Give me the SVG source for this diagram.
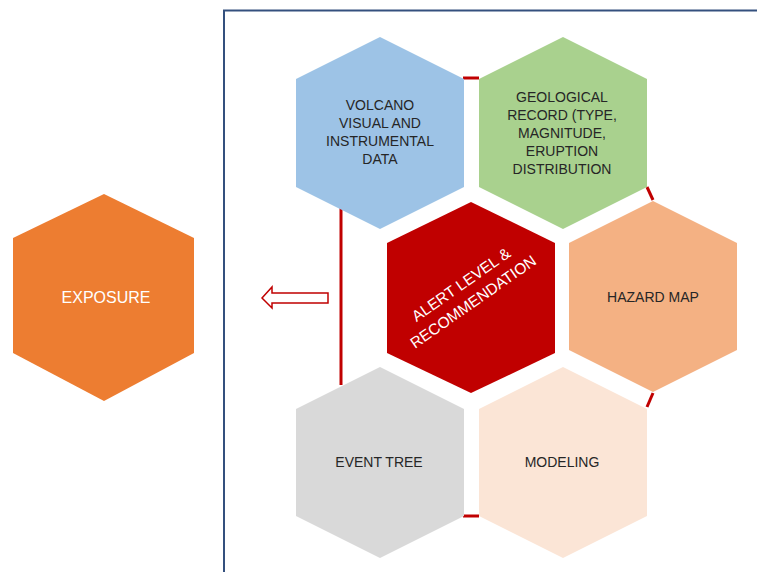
<svg xmlns="http://www.w3.org/2000/svg" width="757" height="572" viewBox="0 0 757 572">
<style>
  .lbl{font-family:"Liberation Sans",Arial,sans-serif;font-size:14px;fill:#262626;text-anchor:middle}
  .wht{font-family:"Liberation Sans",Arial,sans-serif;fill:#ffffff;text-anchor:middle}
  .con{stroke:#c00000;stroke-width:3;fill:none}
</style>
<rect width="757" height="572" fill="#ffffff"/>
<path d="M224 572 V10.5 H757" fill="none" stroke="#34507e" stroke-width="2"/>
<g id="connectors">
  <line class="con" x1="463" y1="78" x2="479" y2="78"/>
  <line class="con" x1="341" y1="208" x2="341" y2="385"/>
  <line class="con" x1="647" y1="187" x2="653" y2="200"/>
  <line class="con" x1="653" y1="393" x2="647" y2="407"/>
  <line class="con" x1="463" y1="516" x2="479" y2="516"/>
  <path d="M262 298 L272 287 V293 H328 V303 H272 V308 Z" fill="#ffffff" stroke="#c00000" stroke-width="1.5"/>
</g>
<g id="volcano">
  <polygon points="380,37 464,79 464,187 380,229 296,187 296,79" fill="#9dc3e6"/>
  <text class="lbl"><tspan x="380" y="110">VOLCANO</tspan><tspan x="380" y="128">VISUAL AND</tspan><tspan x="380" y="146">INSTRUMENTAL</tspan><tspan x="380" y="164">DATA</tspan></text>
</g>
<g id="geological">
  <polygon points="563,37 647,79 647,187 563,229 479,187 479,79" fill="#a9d18e"/>
  <text class="lbl"><tspan x="562" y="102">GEOLOGICAL</tspan><tspan x="562" y="120">RECORD (TYPE,</tspan><tspan x="562" y="138">MAGNITUDE,</tspan><tspan x="562" y="156">ERUPTION</tspan><tspan x="562" y="174">DISTRIBUTION</tspan></text>
</g>
<g id="alert">
  <polygon points="471,202 555,243 555,353 471,393 387,353 387,243" fill="#c00000"/>
  <g transform="translate(467,293) rotate(-35)">
    <text class="wht" font-size="15.5"><tspan x="0" y="-5">ALERT LEVEL &amp;</tspan><tspan x="0" y="16">RECOMMENDATION</tspan></text>
  </g>
</g>
<g id="hazard">
  <polygon points="653,201 737,243 737,350 653,392 569,350 569,243" fill="#f4b183"/>
  <text class="lbl" x="653" y="302">HAZARD MAP</text>
</g>
<g id="eventtree">
  <polygon points="380,367 464,409 464,516 380,558 296,516 296,409" fill="#d9d9d9"/>
  <text class="lbl" x="379" y="467">EVENT TREE</text>
</g>
<g id="modeling">
  <polygon points="563,367 647,409 647,516 563,558 479,516 479,409" fill="#fbe5d6"/>
  <text class="lbl" x="562" y="467">MODELING</text>
</g>
<g id="exposure">
  <polygon points="104,194 194,238 194,353 104,401 13,353 13,238" fill="#ed7d31"/>
  <text class="wht" font-size="16" x="106" y="303">EXPOSURE</text>
</g>
</svg>
